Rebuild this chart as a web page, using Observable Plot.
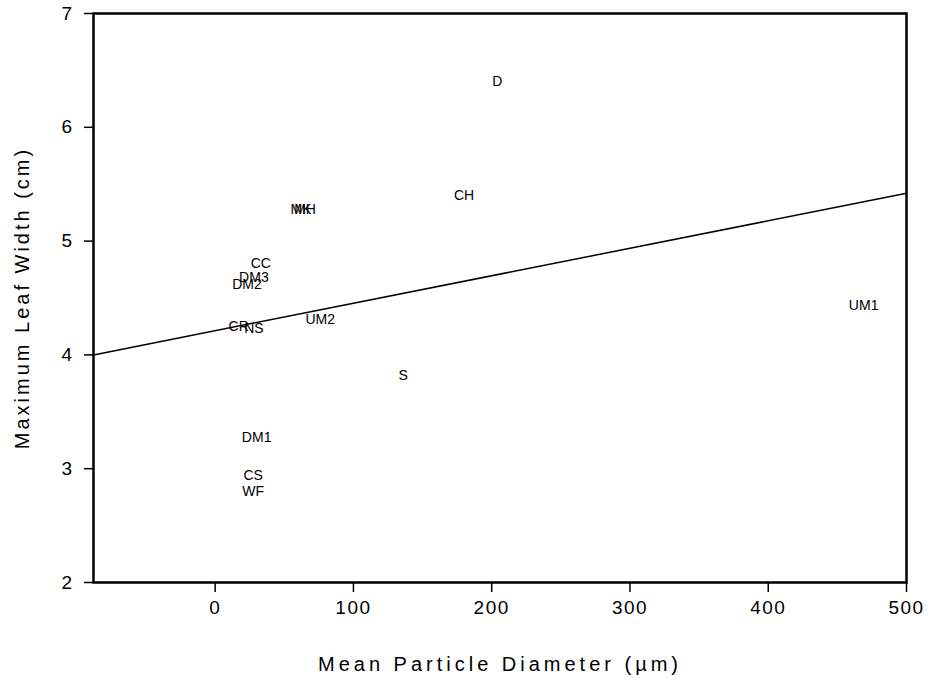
<!DOCTYPE html>
<html><head><meta charset="utf-8">
<script src="https://cdn.jsdelivr.net/npm/d3@7"></script>
<script src="https://cdn.jsdelivr.net/npm/@observablehq/plot@0.6"></script>
<style>body{margin:0;background:#fff}</style>
</head><body><div id="chart"></div>
<script>
const sites = ["D","CH","MK","MH","CC","DM3","DM2","CR","NS","UM2","S","DM1","CS","WF","UM1"];
const diameter = [204, 180, 62, 65, 33, 28, 23, 17, 28, 76, 136, 30, 27.5, 27.5, 469];
const leafWidth = [6.40, 5.40, 5.28, 5.28, 4.80, 4.68, 4.62, 4.25, 4.23, 4.31, 3.82, 3.27, 2.94, 2.80, 4.43];
const fitX = [-88, 500];
const fitY = [4.00, 5.42];
const xTicks = [0, 100, 200, 300, 400, 500];
const yTicks = [2, 3, 4, 5, 6, 7];
const xTitle = "Mean Particle Diameter (µm)";
const yTitle = "Maximum Leaf Width (cm)";

const points = sites.map((s, i) => ({site: s, x: diameter[i], y: leafWidth[i]}));
const fit = fitX.map((x, i) => ({x, y: fitY[i]}));

const chart = Plot.plot({
  width: 929, height: 681,
  marginLeft: 93, marginRight: 23, marginTop: 13, marginBottom: 99,
  style: {fontFamily: "'Liberation Sans', Arial, sans-serif", fontSize: "19px", color: "#000", background: "#fff"},
  x: {domain: [-88, 500]},
  y: {domain: [2, 7]},
  marks: [
    Plot.line(fit, {x: "x", y: "y", stroke: "#000", strokeWidth: 1.5}),
    Plot.text(points, {x: "x", y: "y", text: "site", fontSize: 14, fill: "#000"}),
    Plot.frame({stroke: "#000", strokeWidth: 2.5}),
    Plot.axisX({ticks: xTicks, tickFormat: "d", tickSize: 10, tickPadding: 8, strokeWidth: 1.5, label: xTitle, labelAnchor: "center", labelOffset: 88, labelArrow: "none"}),
    Plot.axisY({ticks: yTicks, tickFormat: "d", tickSize: 9, tickPadding: 11, strokeWidth: 1.5, label: yTitle, labelAnchor: "center", labelOffset: 79, labelArrow: "none"})
  ]
});
const svg = d3.select(chart);
svg.selectAll('[aria-label="x-axis tick label"] text, [aria-label="y-axis tick label"] text').attr("letter-spacing", "1.5px");
svg.selectAll('[aria-label="x-axis label"] text').attr("letter-spacing", "4px").attr("font-size", "20px");
svg.selectAll('[aria-label="y-axis label"] text').attr("letter-spacing", "3px").attr("font-size", "20px");
document.getElementById("chart").append(chart);
</script>
</body></html>
